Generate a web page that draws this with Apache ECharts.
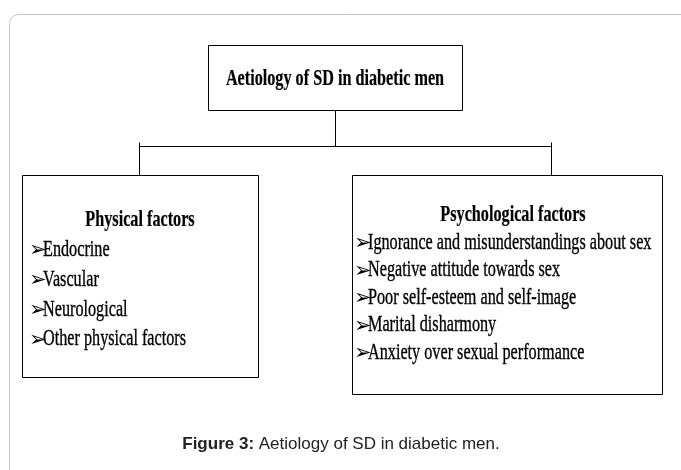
<!DOCTYPE html>
<html>
<head>
<meta charset="utf-8">
<script src="https://cdn.jsdelivr.net/npm/echarts@6/dist/echarts.min.js"></script>
<style>
  html, body { margin: 0; padding: 0; background: #fff; }
  #chart { width: 681px; height: 470px; }
</style>
</head>
<body>
<div id="chart"></div>
<script>
// diagram content
const rootLabel = 'Aetiology of SD in diabetic men'
const physicalTitle = 'Physical factors'
const physicalItems = ['Endocrine', 'Vascular', 'Neurological', 'Other physical factors']
const psychTitle = 'Psychological factors'
const psychItems = [
  'Ignorance and misunderstandings about sex',
  'Negative attitude towards sex',
  'Poor self-esteem and self-image',
  'Marital disharmony',
  'Anxiety over sexual performance'
]
const captionBold = 'Figure 3:'
const captionText = ' Aetiology of SD in diabetic men.'

const myChart = echarts.init(document.getElementById('chart'))

const serif = '"Liberation Serif", "Times New Roman", serif'
const squeeze = 0.72 // the figure uses a narrow times face

function box(x1, y1, x2, y2) {
  return {
    type: 'rect',
    shape: { x: x1 + 0.5, y: y1 + 0.5, width: x2 - x1, height: y2 - y1 },
    style: { fill: '#fff', stroke: '#000', lineWidth: 1 }
  }
}
function line(x1, y1, x2, y2) {
  return {
    type: 'line',
    shape: { x1: x1 + 0.5, y1: y1 + 0.5, x2: x2 + 0.5, y2: y2 + 0.5 },
    style: { stroke: '#000', lineWidth: 1 }
  }
}
function label(text, x, y, opts) {
  opts = opts || {}
  return {
    type: 'text',
    x: x,
    y: y,
    scaleX: squeeze,
    z: 10,
    style: {
      text: text,
      font: (opts.bold ? 'bold ' : '') + (opts.size || 22.5) + 'px ' + serif,
      fill: '#000',
      stroke: '#000',
      lineWidth: opts.bold ? 0.2 : 0.35,
      align: opts.align || 'left',
      verticalAlign: 'middle'
    }
  }
}
function bullet(x, y) {
  return {
    type: 'text',
    x: x,
    y: y + 1,
    z: 10,
    style: {
      text: '\u27A2',
      font: 'bold 21px "DejaVu Sans", sans-serif',
      fill: '#000',
      align: 'left',
      verticalAlign: 'middle'
    }
  }
}

const elements = []
// outer panel frame
elements.push({
  type: 'rect',
  shape: { x: 9.5, y: 14.5, width: 720, height: 520, r: 9 },
  style: { fill: 'none', stroke: '#c8c8c8', lineWidth: 1 }
})

// root box
elements.push(box(208, 45, 462, 110))
elements.push(label(rootLabel, 335, 79, { bold: true, align: 'center' }))

// connectors
elements.push(line(335, 110, 335, 146))
elements.push(line(139, 146, 551, 146))
elements.push(line(139, 142, 139, 175))
elements.push(line(551, 142, 551, 175))

// left box
elements.push(box(22, 175, 258, 377))
elements.push(label(physicalTitle, 140, 220, { bold: true, align: 'center' }))
physicalItems.forEach((t, i) => {
  const y = 250 + i * 29.8
  elements.push(bullet(29, y))
  elements.push(label(t, 43, y))
})

// right box
elements.push(box(352, 175, 662, 394))
elements.push(label(psychTitle, 513, 215, { bold: true, align: 'center' }))
psychItems.forEach((t, i) => {
  const y = 243 + i * 27.5
  elements.push(bullet(354, y))
  elements.push(label(t, 368, y))
})

// caption
elements.push({
  type: 'text',
  x: 341,
  y: 444,
  style: {
    text: '{b|' + captionBold + '}' + captionText,
    font: '17px "Liberation Sans", Arial, sans-serif',
    fill: '#222',
    align: 'center',
    verticalAlign: 'middle',
    rich: {
      b: { fontWeight: 'bold', fontSize: 17, fontFamily: '"Liberation Sans", Arial, sans-serif', fill: '#222' }
    }
  }
})

myChart.setOption({
  backgroundColor: '#fff',
  animation: false,
  graphic: { elements: elements }
})
</script>
</body>
</html>
